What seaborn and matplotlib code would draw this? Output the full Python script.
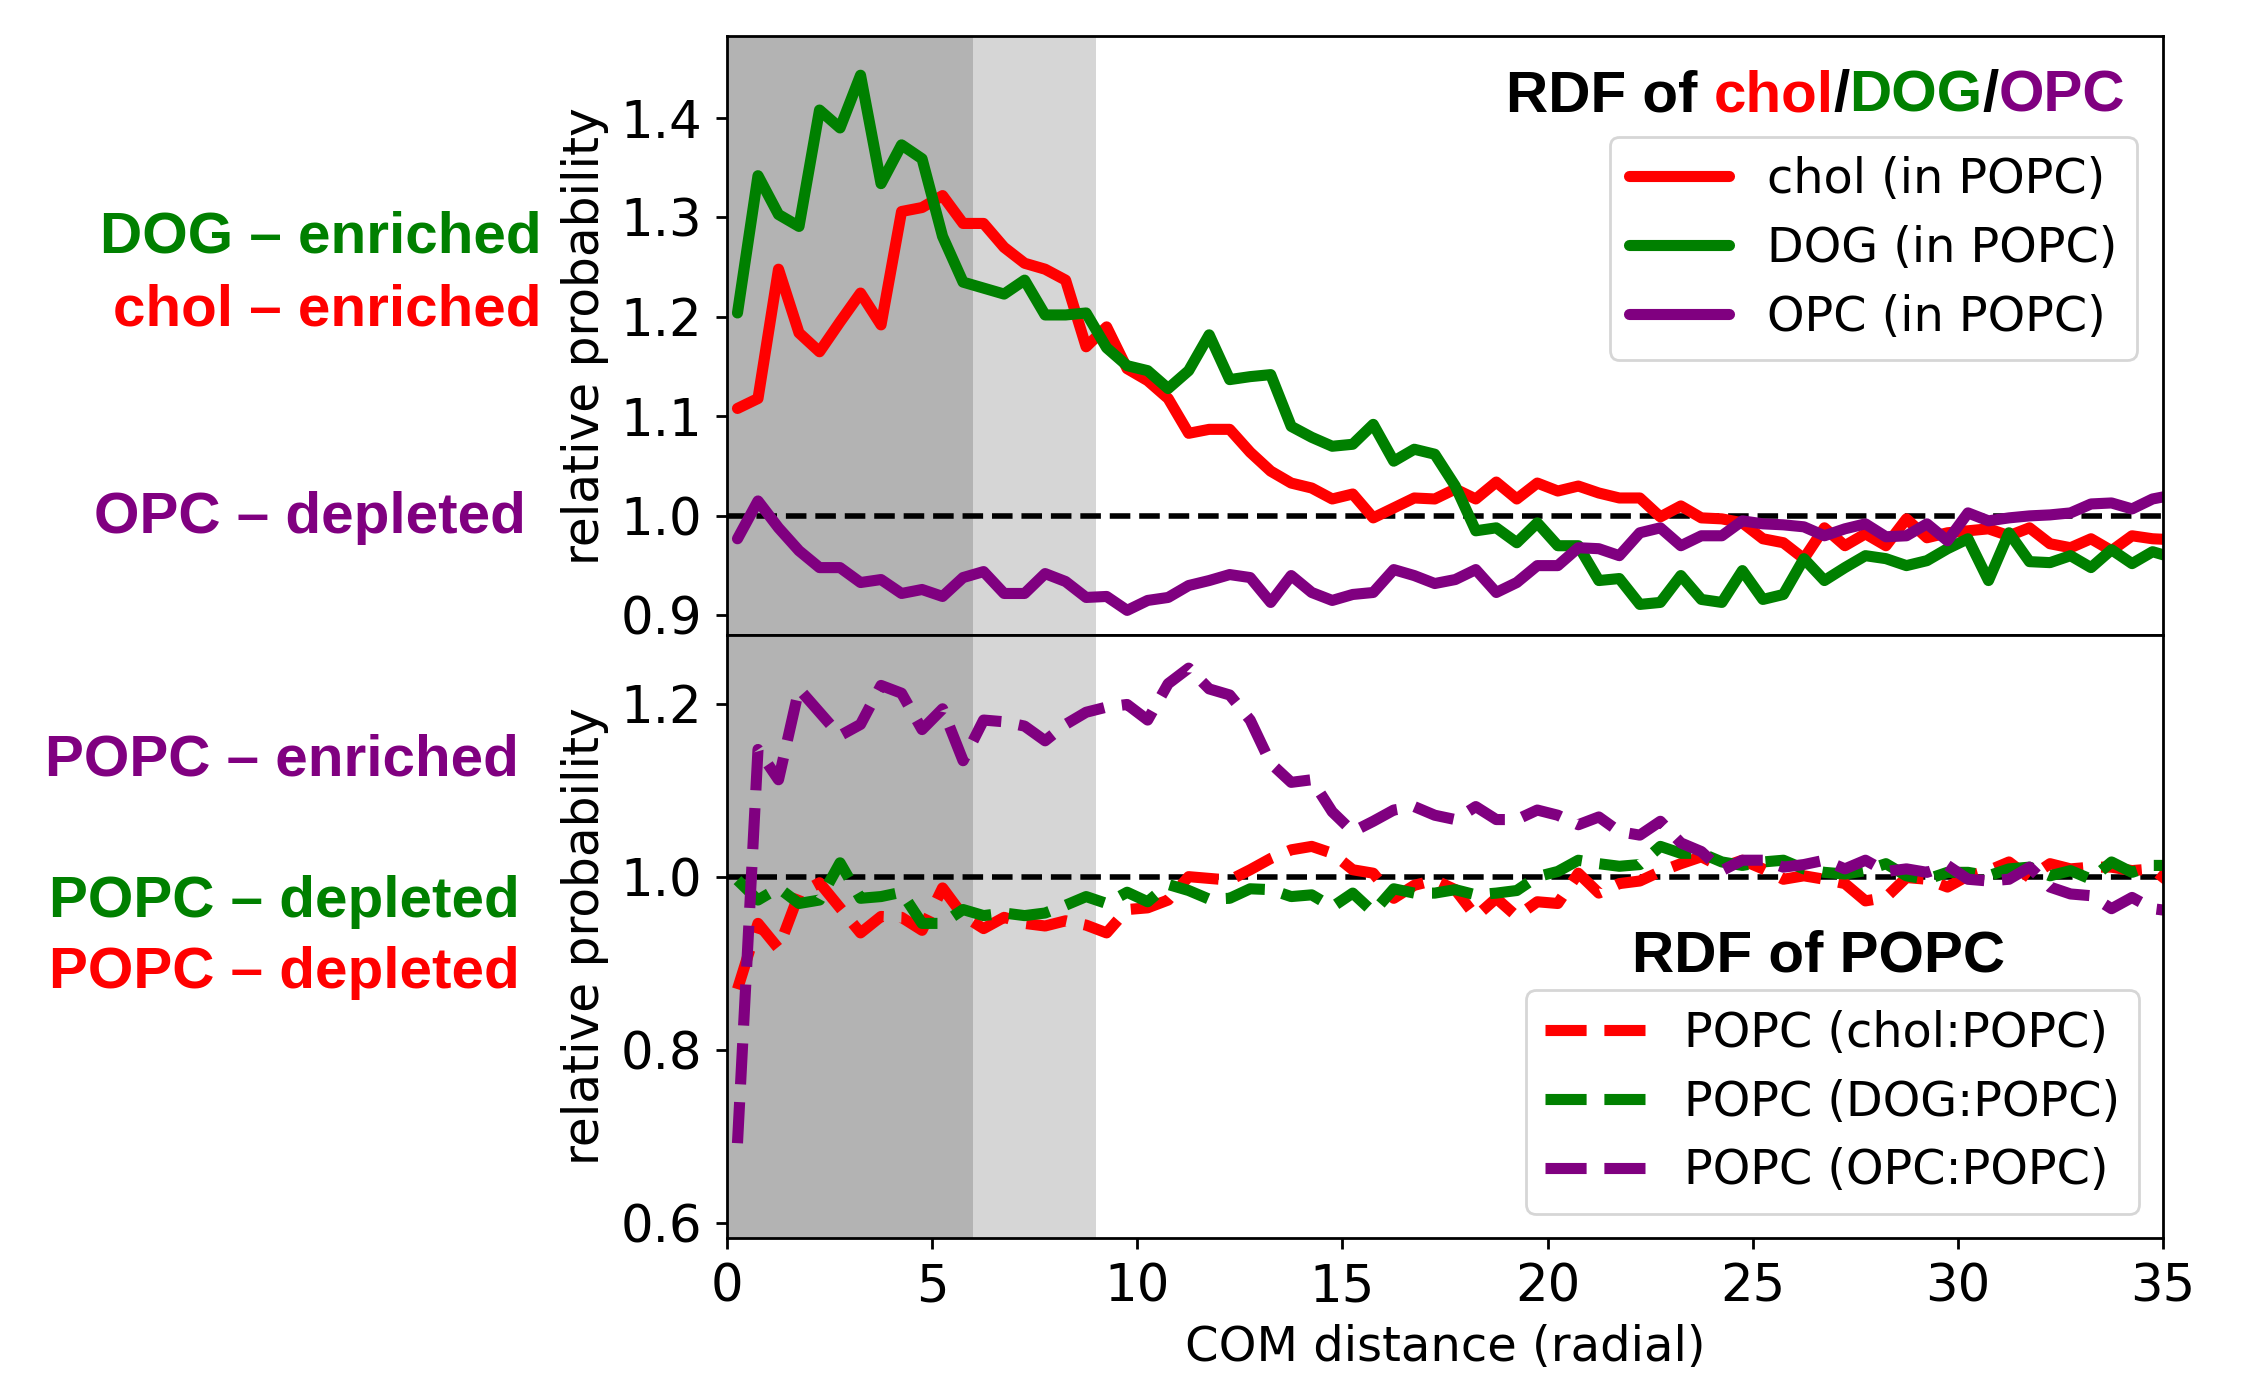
import numpy as np
import pandas as pd
import matplotlib
matplotlib.use("Agg")
import matplotlib.pyplot as plt
import seaborn as sns

# ---------------- data ----------------
distance = np.arange(0.25, 35.5, 0.5)  # radial bin centres (71 bins)

chol_in_popc = [1.108, 1.118, 1.248, 1.184, 1.165, 1.195, 1.224, 1.192, 1.306, 1.310,
                1.322, 1.294, 1.294, 1.270, 1.254, 1.248, 1.237, 1.170, 1.190, 1.148,
                1.136, 1.118, 1.083, 1.087, 1.087, 1.064, 1.045, 1.033, 1.028, 1.017,
                1.022, 0.998, 1.008, 1.018, 1.017, 1.027, 1.017, 1.034, 1.017, 1.033,
                1.025, 1.030, 1.023, 1.018, 1.018, 0.999, 1.010, 0.998, 0.997, 0.993,
                0.977, 0.973, 0.957, 0.988, 0.970, 0.982, 0.970, 0.997, 0.978, 0.983,
                0.985, 0.987, 0.980, 0.988, 0.972, 0.968, 0.977, 0.965, 0.980, 0.977,
                0.976]

dog_in_popc = [1.204, 1.342, 1.303, 1.291, 1.408, 1.390, 1.443, 1.334, 1.373, 1.359,
               1.281, 1.235, 1.229, 1.223, 1.237, 1.202, 1.202, 1.204, 1.169, 1.151,
               1.146, 1.128, 1.146, 1.182, 1.137, 1.140, 1.142, 1.090, 1.079, 1.070,
               1.072, 1.092, 1.055, 1.067, 1.062, 1.030, 0.985, 0.988, 0.973, 0.993,
               0.970, 0.970, 0.935, 0.937, 0.911, 0.913, 0.940, 0.916, 0.913, 0.945,
               0.916, 0.921, 0.957, 0.935, 0.948, 0.960, 0.957, 0.950, 0.955, 0.967,
               0.977, 0.935, 0.983, 0.954, 0.953, 0.960, 0.948, 0.966, 0.952, 0.964,
               0.958]

opc_in_popc = [0.977, 1.015, 0.988, 0.965, 0.948, 0.948, 0.933, 0.936, 0.922, 0.926,
               0.919, 0.938, 0.944, 0.922, 0.922, 0.942, 0.934, 0.918, 0.919, 0.905,
               0.915, 0.918, 0.930, 0.935, 0.941, 0.938, 0.913, 0.940, 0.923, 0.915,
               0.921, 0.923, 0.946, 0.940, 0.932, 0.936, 0.946, 0.923, 0.933, 0.950,
               0.950, 0.968, 0.967, 0.960, 0.983, 0.988, 0.970, 0.980, 0.980, 0.995,
               0.992, 0.991, 0.989, 0.980, 0.987, 0.992, 0.979, 0.980, 0.992, 0.975,
               1.003, 0.995, 0.998, 1.000, 1.001, 1.003, 1.012, 1.013, 1.007, 1.017,
               1.021]

popc_chol = [0.870, 0.946, 0.917, 0.980, 0.993, 0.964, 0.935, 0.954, 0.953, 0.938,
             0.987, 0.955, 0.940, 0.953, 0.946, 0.943, 0.949, 0.944, 0.935, 0.962,
             0.964, 0.973, 1.000, 0.998, 0.996, 1.008, 1.021, 1.031, 1.035, 1.027,
             1.008, 1.004, 0.975, 0.990, 0.996, 0.985, 0.954, 0.975, 0.954, 0.971,
             0.969, 1.004, 0.981, 0.992, 0.995, 1.006, 1.015, 1.023, 1.011, 1.019,
             1.009, 0.997, 1.001, 0.997, 0.992, 0.972, 0.976, 0.999, 0.997, 0.988,
             1.001, 1.007, 1.017, 0.999, 1.015, 1.009, 1.011, 1.011, 1.007, 1.009,
             0.990]

popc_dog = [0.996, 0.973, 0.987, 0.969, 0.973, 1.016, 0.975, 0.977, 0.982, 0.946,
            0.946, 0.962, 0.955, 0.958, 0.955, 0.958, 0.967, 0.977, 0.969, 0.982,
            0.971, 0.991, 0.984, 0.974, 0.975, 0.986, 0.985, 0.977, 0.979, 0.965,
            0.981, 0.959, 0.986, 0.981, 0.981, 0.985, 0.979, 0.981, 0.984, 1.000,
            1.006, 1.019, 1.015, 1.012, 1.014, 1.035, 1.027, 1.027, 1.017, 1.013,
            1.017, 1.019, 1.009, 1.005, 1.003, 1.007, 1.015, 1.001, 0.997, 1.005,
            1.005, 1.001, 1.009, 1.011, 1.001, 1.007, 0.997, 1.017, 1.005, 1.013,
            1.013]

popc_opc = [0.692, 1.147, 1.112, 1.217, 1.190, 1.163, 1.176, 1.221, 1.212, 1.170,
            1.194, 1.134, 1.181, 1.179, 1.174, 1.157, 1.176, 1.190, 1.196, 1.199,
            1.181, 1.223, 1.241, 1.217, 1.210, 1.181, 1.131, 1.109, 1.112, 1.075,
            1.052, 1.064, 1.077, 1.081, 1.071, 1.066, 1.081, 1.066, 1.066, 1.077,
            1.071, 1.060, 1.069, 1.052, 1.048, 1.064, 1.039, 1.029, 1.007, 1.019,
            1.019, 1.011, 1.014, 1.019, 1.009, 1.019, 1.006, 1.009, 1.005, 1.013,
            0.997, 0.995, 0.997, 1.011, 0.988, 0.980, 0.978, 0.963, 0.976, 0.963,
            0.960]

top_labels = ["chol (in POPC)", "DOG (in POPC)", "OPC (in POPC)"]
bottom_labels = ["POPC (chol:POPC)", "POPC (DOG:POPC)", "POPC (OPC:POPC)"]
colors = ["red", "green", "purple"]
x_ticks = [0, 5, 10, 15, 20, 25, 30, 35]
top_yticks = [0.9, 1.0, 1.1, 1.2, 1.3, 1.4]
bottom_yticks = [0.6, 0.8, 1.0, 1.2]

# ---------------- style ----------------
sns.set_style("ticks")
plt.rcParams.update({
    "font.family": ["DejaVu Sans"],
    "axes.edgecolor": "black",
    "axes.linewidth": 1.0,
    "xtick.color": "black",
    "ytick.color": "black",
    "text.color": "black",
    "axes.labelcolor": "black",
    "xtick.major.width": 1.0,
    "ytick.major.width": 1.0,
})

fig = plt.figure(figsize=(11.24, 6.875), dpi=200)
ax1 = fig.add_axes([0.3235, 0.538, 0.6386, 0.4355])
ax2 = fig.add_axes([0.3235, 0.100, 0.6386, 0.438], sharex=ax1)

for ax in (ax1, ax2):
    ax.axvspan(0, 6, color="#b3b3b3", lw=0, zorder=0)
    ax.axvspan(6, 9, color="#d6d6d6", lw=0, zorder=0)
    ax.axhline(1.0, color="black", ls="--", lw=2, zorder=1.5)

top_df = pd.DataFrame({"distance": distance, top_labels[0]: chol_in_popc,
                       top_labels[1]: dog_in_popc, top_labels[2]: opc_in_popc})
bot_df = pd.DataFrame({"distance": distance, bottom_labels[0]: popc_chol,
                       bottom_labels[1]: popc_dog, bottom_labels[2]: popc_opc})

for lab, col in zip(top_labels, colors):
    sns.lineplot(data=top_df, x="distance", y=lab, ax=ax1, color=col, lw=4,
                 label=lab, zorder=2)
for lab, col in zip(bottom_labels, colors):
    sns.lineplot(data=bot_df, x="distance", y=lab, ax=ax2, color=col, lw=4,
                 ls="--", label=lab, zorder=2)

ax1.set_xlim(0, 35)
ax1.set_ylim(0.880, 1.482)
ax2.set_ylim(0.583, 1.279)
ax2.set_xticks(x_ticks)
ax1.set_yticks(top_yticks)
ax2.set_yticks(bottom_yticks)
ax1.yaxis.set_major_formatter(matplotlib.ticker.FormatStrFormatter("%.1f"))
ax2.yaxis.set_major_formatter(matplotlib.ticker.FormatStrFormatter("%.1f"))
ax1.tick_params(axis="x", bottom=False, labelbottom=False)
for ax in (ax1, ax2):
    ax.tick_params(axis="both", labelsize=18.5, length=4, pad=5)
    for s in ax.spines.values():
        s.set_visible(True)
        s.set_linewidth(1.0)

ax1.set_xlabel("")
ax1.set_ylabel("relative probability", fontsize=17.5)
ax2.set_ylabel("relative probability", fontsize=17.5)
ax2.set_xlabel("COM distance (radial)", fontsize=17.3)
fig.align_ylabels([ax1, ax2])

ax1.legend(loc="upper right", bbox_to_anchor=(0.982, 0.8325), borderaxespad=0,
           fontsize=17.2, handlelength=2.1, labelspacing=0.46)
ax2.legend(loc="lower right", fontsize=17.2, handlelength=2.1, labelspacing=0.46)

# multi-coloured header for top panel (built right to left)
bold = dict(fontsize=21, fontweight="bold", family="Liberation Sans")
pieces = [("RDF of", "black"), ("chol", "red"), ("/", "black"),
          ("DOG", "green"), ("/", "black"), ("OPC", "purple")]
prev = ax1.text(0.974, 0.90, pieces[-1][0], color=pieces[-1][1],
                transform=ax1.transAxes, ha="right", va="center", **bold)
for i in range(len(pieces) - 2, -1, -1):
    txt, col = pieces[i]
    gap = -5.8 if txt == "RDF of" else 0
    prev = ax1.annotate(txt, xy=(0, 0), xycoords=prev, xytext=(gap, 0),
                        textcoords="offset points", ha="right", va="bottom",
                        color=col, **bold)

ax2.text(0.76, 0.466, "RDF of POPC", transform=ax2.transAxes, ha="center",
         va="center", color="black", **bold)

# side annotations
side = [("DOG – enriched", "green", 0.241, 0.827),
        ("chol – enriched", "red", 0.241, 0.774),
        ("OPC – depleted", "purple", 0.234, 0.623),
        ("POPC – enriched", "purple", 0.231, 0.447),
        ("POPC – depleted", "green", 0.231, 0.344),
        ("POPC – depleted", "red", 0.231, 0.292)]
for txt, col, x, y in side:
    fig.text(x, y, txt, color=col, ha="right", va="center", **bold)

fig.savefig("out.png", dpi=200)
